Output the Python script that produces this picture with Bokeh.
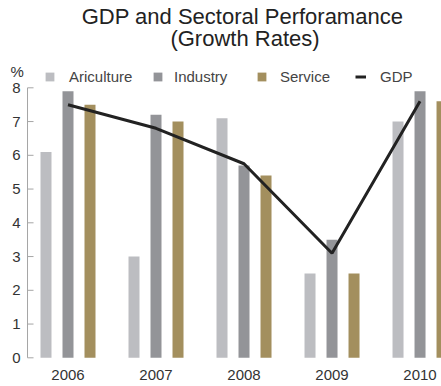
from bokeh.plotting import figure
from bokeh.models import Range1d, Label, Legend, LegendItem, FixedTicker, ColumnDataSource, LinearAxis
from bokeh.embed import file_html
from bokeh.resources import INLINE

years = [2006, 2007, 2008, 2009, 2010]
agriculture = [6.1, 3.0, 7.1, 2.5, 7.0]
industry = [7.9, 7.2, 5.7, 3.5, 7.9]
service = [7.5, 7.0, 5.4, 2.5, 7.6]
gdp = [7.5, 6.8, 5.75, 3.1, 7.6]
series_names = ["Ariculture", "Industry", "Service", "GDP"]
title_lines = ["GDP and Sectoral Perforamance", "(Growth Rates)"]
y_ticks = [0, 1, 2, 3, 4, 5, 6, 7, 8]

FONT = "Liberation Sans"
C_AGR = "#bcbdc1"
C_IND = "#939498"
C_SER = "#a38f5e"
C_GDP = "#222222"
C_AXIS = "#a5a5a5"
AXIS_X = 2005.54
X0, X1 = 2005.233, 2010.244
PLOT_W = 441
TICK_LEN = 6 * (X1 - X0) / PLOT_W  # 6 px expressed in x data units

p = figure(width=PLOT_W, height=386, output_backend="svg", toolbar_location=None,
           x_range=Range1d(X0, X1), y_range=Range1d(-0.317, 10.587),
           x_axis_location="below", y_axis_location=None,
           min_border_left=0, min_border_right=0, min_border_top=0, min_border_bottom=18)
p.outline_line_color = None
p.xgrid.grid_line_color = None
p.ygrid.grid_line_color = None
p.background_fill_color = "white"
p.border_fill_color = "white"

src = ColumnDataSource(dict(
    x_a=[y - 0.25 for y in years], x_i=years, x_s=[y + 0.25 for y in years],
    agr=agriculture, ind=industry, ser=service, gdp=gdp))

w = 0.125
r_a = p.vbar(x="x_a", top="agr", bottom=0, width=w, source=src, fill_color=C_AGR, line_color=None)
r_i = p.vbar(x="x_i", top="ind", bottom=0, width=w, source=src, fill_color=C_IND, line_color=None)
r_s = p.vbar(x="x_s", top="ser", bottom=0, width=w, source=src, fill_color=C_SER, line_color=None)
r_g = p.line(x="x_i", y="gdp", source=src, line_color=C_GDP, line_width=3)

# x axis
p.xaxis.ticker = FixedTicker(ticks=years)
p.xaxis.axis_line_color = None
p.xaxis.major_tick_line_color = None
p.xaxis.minor_tick_line_color = None
p.xaxis.major_label_text_font = FONT
p.xaxis.major_label_text_font_size = "15px"
p.xaxis.major_label_text_color = "#333333"
p.xaxis.major_label_standoff = -5

# y axis tick labels, left of the rule
ylab = LinearAxis(ticker=FixedTicker(ticks=y_ticks), fixed_location=AXIS_X, bounds=(0, 8),
                  axis_line_color=None, major_tick_line_color=None, minor_tick_line_color=None,
                  major_tick_in=0, major_tick_out=0,
                  major_label_text_font=FONT, major_label_text_font_size="15px",
                  major_label_text_color="#333333", major_label_standoff=7)
try:
    ylab.background_fill_color = None
except Exception:
    pass
p.add_layout(ylab, "left")

# y axis rule and inward ticks, drawn in data space from the tick list, above the guides
p.segment(x0=[AXIS_X], y0=[y_ticks[0]], x1=[AXIS_X], y1=[y_ticks[-1]],
          line_color=C_AXIS, line_width=1, level="overlay")
p.segment(x0=[AXIS_X] * len(y_ticks), y0=y_ticks,
          x1=[AXIS_X + TICK_LEN] * len(y_ticks), y1=y_ticks,
          line_color=C_AXIS, line_width=1, level="overlay")

# title lines (screen units relative to frame bottom-left)
p.add_layout(Label(x=242, y=352, x_units="screen", y_units="screen", text=title_lines[0],
                   text_align="center", text_baseline="alphabetic", text_font=FONT,
                   text_font_size="22px", text_color="#222222"))
p.add_layout(Label(x=244.5, y=330, x_units="screen", y_units="screen", text=title_lines[1],
                   text_align="center", text_baseline="alphabetic", text_font=FONT,
                   text_font_size="22px", text_color="#222222"))
p.add_layout(Label(x=10, y=297, x_units="screen", y_units="screen", text="%",
                   text_align="left", text_baseline="alphabetic", text_font=FONT,
                   text_font_size="15px", text_color="#333333"))

legend_x = [44, 152, 256, 355]
renderers = [r_a, r_i, r_s, r_g]
standoffs = [14, 11, 13, 14]
for name, r, lx, so in zip(series_names, renderers, legend_x, standoffs):
    lg = Legend(items=[LegendItem(label=name, renderers=[r])],
                orientation="horizontal", location=(lx, 283),
                glyph_width=11, glyph_height=11, label_standoff=so, label_height=11,
                padding=0, margin=0, border_line_color=None, background_fill_alpha=0,
                label_text_font=FONT, label_text_font_size="15px", label_text_color="#444444")
    p.add_layout(lg, "center")

open("out.html", "w").write(file_html(p, INLINE))
